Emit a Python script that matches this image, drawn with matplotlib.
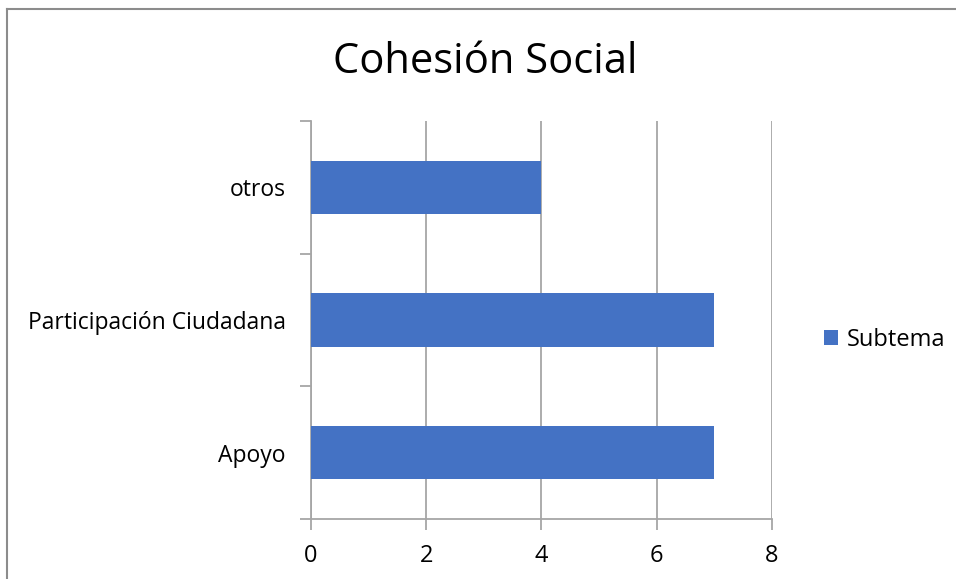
import matplotlib.pyplot as plt
from matplotlib.lines import Line2D
from matplotlib.patches import Patch

# datos
categorias = ["Apoyo", "Participación Ciudadana", "otros"]
valores = [7, 7, 4]
serie = "Subtema"
x_ticks = [0, 2, 4, 6, 8]

plt.rcParams['font.family'] = ['Open Sans', 'DejaVu Sans']

fig = plt.figure(figsize=(9.56, 5.79), dpi=100)
ax = fig.add_axes([0.3253, 0.1036, 0.8075 - 0.3253, 0.791 - 0.1036])

gris = '#A6A6A6'
ax.barh(range(len(categorias)), valores, height=0.4, color='#4472C4', zorder=3)

ax.set_xlim(0, 8)
ax.set_ylim(-0.5, len(categorias) - 0.5)
ax.set_xticks(x_ticks)
ax.set_xticklabels([str(t) for t in x_ticks], fontsize=17)
ax.set_yticks(range(len(categorias)))
ax.set_yticklabels(categorias, fontsize=16.5)
ax.set_yticks([i - 0.5 for i in range(len(categorias) + 1)], minor=True)

ax.tick_params(axis='y', which='major', length=0, pad=18)
ax.tick_params(axis='y', which='minor', length=8, color=gris, width=1.3)
ax.tick_params(axis='x', length=8, color=gris, width=1.3, pad=10)

ax.grid(axis='x', color=gris, linewidth=1.3, zorder=0)
for s in ['top', 'right']:
    ax.spines[s].set_visible(False)
for s in ['left', 'bottom']:
    ax.spines[s].set_color(gris)
    ax.spines[s].set_linewidth(1.3)

fig.text(0.508, 0.893, "Cohesión Social", fontsize=30, ha='center', va='center')

handles = [Patch(facecolor='#4472C4', label=serie)]
fig.legend(handles=handles, loc='center left', bbox_to_anchor=(0.84, 0.413),
           frameon=False, fontsize=17, handlelength=0.6, handleheight=0.6,
           handletextpad=0.35)

# borde del area del grafico
fig.add_artist(Line2D([0.0068, 0.0068], [0, 0.984], transform=fig.transFigure,
                      color='#8C8C8C', linewidth=1.5))
fig.add_artist(Line2D([0.0068, 1], [0.984, 0.984], transform=fig.transFigure,
                      color='#8C8C8C', linewidth=1.5))

fig.savefig('out.png', dpi=100)
